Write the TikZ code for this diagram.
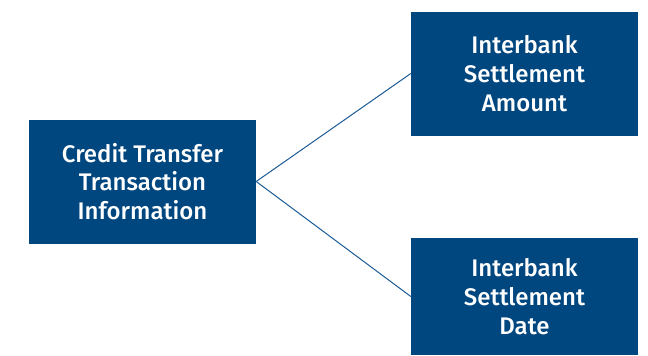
\documentclass[tikz,border=0pt]{standalone}
\usepackage{fontspec}
\setmainfont{Fira Sans}[UprightFont=* Medium]
\definecolor{boxblue}{HTML}{00467F}
\definecolor{lineblue}{HTML}{1B5A96}
\begin{document}
\begin{tikzpicture}[x=1pt,y=-1pt,
  box/.style={fill=boxblue, text=white, inner sep=0pt, minimum width=227pt, minimum height=124pt,
    align=center, font=\fontsize{24}{28.7}\selectfont},
  link/.style={draw=lineblue, line width=1pt}]
\useasboundingbox (0,0) rectangle (648,356);
\node[box] (ctti) at (142.5,181.5) {Credit Transfer\\Transaction\\Information};
\node[box] (isa) at (524.5,73.5) {Interbank\\Settlement\\Amount};
\node[box, minimum height=117pt] (isd) at (524.5,296.5) {Interbank\\Settlement\\Date};
\draw[link] (ctti.east) -- (isa.west);
\draw[link] (ctti.east) -- (isd.west);
\end{tikzpicture}
\end{document}
